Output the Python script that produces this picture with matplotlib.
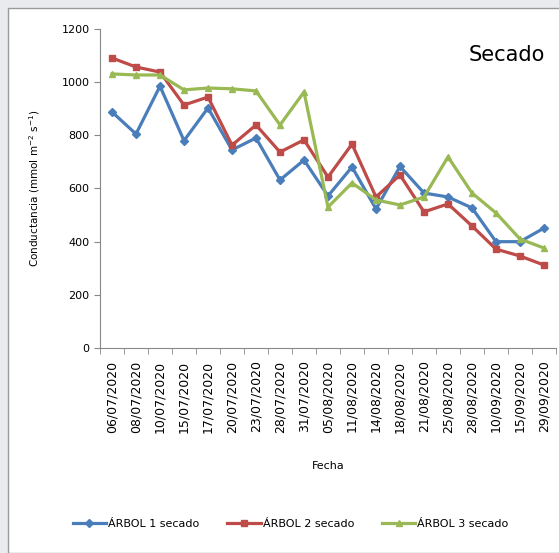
import matplotlib.pyplot as plt
from matplotlib.patches import Rectangle

fechas = ["06/07/2020", "08/07/2020", "10/07/2020", "15/07/2020", "17/07/2020",
          "20/07/2020", "23/07/2020", "28/07/2020", "31/07/2020", "05/08/2020",
          "11/08/2020", "14/08/2020", "18/08/2020", "21/08/2020", "25/08/2020",
          "28/08/2020", "10/09/2020", "15/09/2020", "29/09/2020"]
arbol1 = [888, 805, 985, 780, 903, 745, 790, 632, 707, 572, 681, 523, 683, 583, 568,
          527, 400, 400, 451]
arbol2 = [1091, 1057, 1038, 914, 944, 763, 839, 737, 783, 643, 767, 568, 651, 512, 542,
          459, 372, 346, 312]
arbol3 = [1031, 1027, 1027, 971, 978, 975, 967, 839, 963, 530, 621, 557, 538, 568, 719,
          583, 508, 410, 376]

fig = plt.figure(figsize=(5.59, 5.53), dpi=100)
fig.patch.set_facecolor("#e9ebef")
fig.patches.append(Rectangle((8 / 559, 0), 1, 1 - 8 / 553, transform=fig.transFigure,
                             facecolor="white", edgecolor="#9a9a9a", lw=1, zorder=-1))

ax = fig.add_axes([100 / 559, 1 - 348 / 553, 456 / 559, 319 / 553])
ax.set_facecolor("white")
x = list(range(len(fechas)))
ax.plot(x, arbol1, color="#4a7ebb", lw=2.3, marker="D", ms=4, label="ÁRBOL 1 secado")
ax.plot(x, arbol2, color="#be4b48", lw=2.3, marker="s", ms=5, label="ÁRBOL 2 secado")
ax.plot(x, arbol3, color="#98b954", lw=2.3, marker="^", ms=5, label="ÁRBOL 3 secado")

ax.set_xlim(-0.5, len(fechas) - 0.5)
ax.set_ylim(0, 1200)
ax.set_yticks(range(0, 1201, 200))
ax.set_xticks(x)
ax.set_xticklabels(fechas, rotation=90, fontsize=9)
ax.set_xticks([i - 0.5 for i in range(len(fechas) + 1)], minor=True)
ax.tick_params(axis="x", which="major", length=0, pad=9)
ax.tick_params(axis="x", which="minor", length=4, color="#888888")
ax.tick_params(axis="y", labelsize=8, length=4, color="#888888")
for s in ["top", "right"]:
    ax.spines[s].set_visible(False)
for s in ["left", "bottom"]:
    ax.spines[s].set_color("#888888")

ax.set_ylabel("Conductancia (mmol m$^{-2}$ s$^{-1}$)", fontsize=7.5, labelpad=14)
ax.set_xlabel("Fecha", fontsize=8, labelpad=20)
ax.text(0.975, 0.92, "Secado", transform=ax.transAxes, ha="right", va="center",
        fontsize=15, fontweight="medium")

fig.legend(loc="center", bbox_to_anchor=(0.52, 1 - 524 / 553), ncol=3, frameon=False,
           fontsize=8, handlelength=3, columnspacing=2.5, handletextpad=0.2)

fig.savefig("out.png", dpi=100, facecolor=fig.get_facecolor())
